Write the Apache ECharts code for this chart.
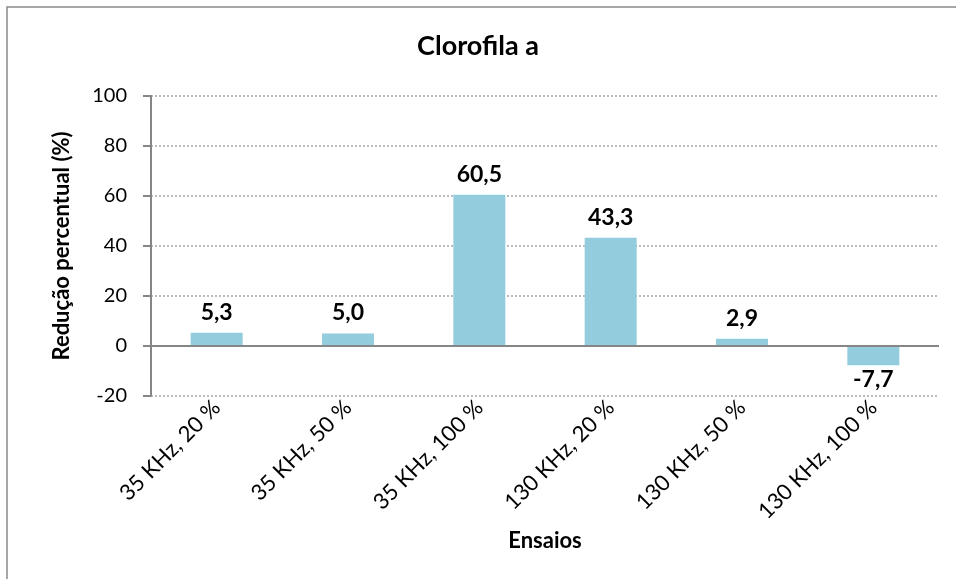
<!DOCTYPE html>
<html>
<head>
<meta charset="utf-8">
<script src="https://cdn.jsdelivr.net/npm/echarts@6/dist/echarts.min.js"></script>
<style>
  html, body { margin: 0; padding: 0; background: #fff; }
  #chart { width: 956px; height: 579px; }
</style>
</head>
<body>
<div id="chart"></div>
<script>
// Chlorophyll-a reduction per trial (frequency, power)
const categories = ['35 KHz, 20 %', '35 KHz, 50 %', '35 KHz, 100 %', '130 KHz, 20 %', '130 KHz, 50 %', '130 KHz, 100 %'];
const reduction = [5.3, 5.0, 60.5, 43.3, 2.9, -7.7];
const yTicks = { min: -20, max: 100, step: 20 };

const FONT = 'Lato, "Open Sans", sans-serif';
const fmt = v => v.toFixed(1).replace('.', ',');

const chart = echarts.init(document.getElementById('chart'), null, { renderer: 'canvas' });

chart.setOption({
  animation: false,
  backgroundColor: '#ffffff',
  textStyle: { fontFamily: FONT },
  graphic: [{
    type: 'rect',
    silent: true,
    shape: { x: 7, y: 7, width: 1200, height: 1200 },
    style: { fill: 'none', stroke: '#8a8a8a', lineWidth: 1.5 }
  }],
  title: {
    text: 'Clorofila a',
    left: 'center',
    top: 28,
    textStyle: { fontFamily: FONT, fontSize: 27, fontWeight: 'bold', color: '#000' }
  },
  grid: { left: 151, right: 17, top: 96, bottom: 183, containLabel: false },
  xAxis: {
    type: 'category',
    data: categories,
    name: 'Ensaios',
    nameLocation: 'middle',
    nameGap: 130,
    nameTextStyle: { fontFamily: FONT, fontSize: 22, fontWeight: 'bold', color: '#000' },
    axisLine: { show: false, onZero: false },
    axisTick: { show: false },
    axisLabel: {
      rotate: 45,
      margin: 8,
      interval: 0,
      fontFamily: FONT,
      fontSize: 22,
      color: '#000'
    }
  },
  yAxis: {
    type: 'value',
    min: yTicks.min,
    max: yTicks.max,
    interval: yTicks.step,
    name: 'Redução percentual (%)',
    nameLocation: 'middle',
    nameGap: 78,
    nameTextStyle: { fontFamily: FONT, fontSize: 22, fontWeight: 'bold', color: '#000' },
    axisLine: { show: true, lineStyle: { color: '#868686', width: 2 } },
    axisTick: { show: true, length: 8, lineStyle: { color: '#868686', width: 2 } },
    axisLabel: { margin: 24, fontFamily: FONT, fontSize: 20, color: '#000' },
    splitLine: { show: true, lineStyle: { color: '#a6a6a6', width: 1.5, type: [2, 2] } }
  },
  series: [{
    type: 'bar',
    data: reduction.map(v => ({
      value: v,
      label: v < 0 ? { position: 'bottom', distance: 3 } : { position: 'top', distance: 9 }
    })),
    barWidth: 52,
    itemStyle: { color: '#93cddd' },
    label: {
      show: true,
      fontFamily: FONT,
      fontSize: 23,
      fontWeight: 'bold',
      color: '#000',
      formatter: p => fmt(p.value)
    },
    markLine: {
      silent: true,
      symbol: 'none',
      label: { show: false },
      lineStyle: { color: '#868686', width: 2, type: 'solid' },
      data: [{ yAxis: 0 }]
    }
  }]
});
</script>
</body>
</html>
